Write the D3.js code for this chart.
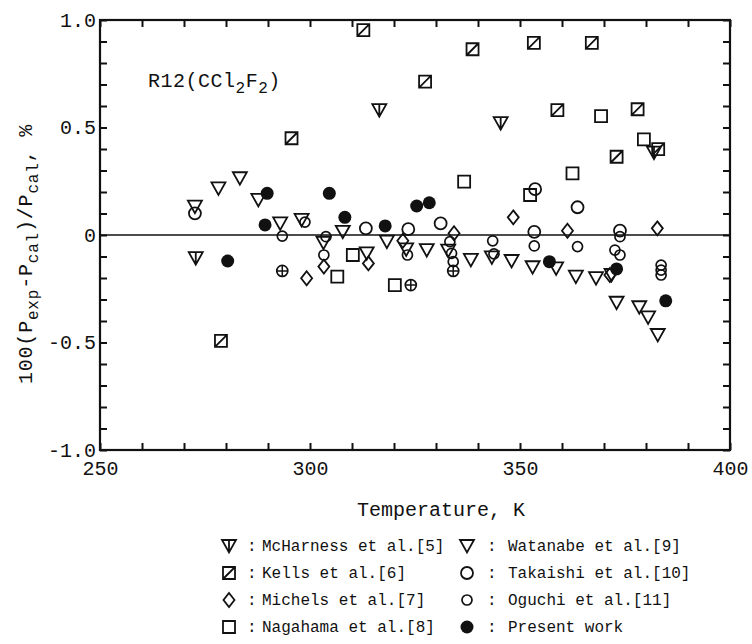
<!DOCTYPE html>
<html><head><meta charset="utf-8">
<script src="https://cdn.jsdelivr.net/npm/d3@7"></script>
<style>
body{margin:0;background:#fff}
svg{display:block}
text{font-family:"Liberation Mono","DejaVu Sans Mono",monospace;fill:#111}
</style>
</head><body>
<svg id="c" width="752" height="644"></svg>
<script>
// ---- data (temperature K, deviation %) ----
const mcHarness = [[272.8,-0.108],[316.5,0.581],[345.4,0.520],[381.9,0.383]];
const kells = [[278.8,-0.492],[295.6,0.450],[312.7,0.953],[327.4,0.713],[338.7,0.864],[353.3,0.894],[367.1,0.894],[358.9,0.581],[378.0,0.585],[373.0,0.364],[382.9,0.399]];
const michels = [[299.2,-0.201],[303.3,-0.147],[313.9,-0.132],[322.1,-0.027],[334.3,0.008],[348.4,0.082],[361.3,0.020],[371.4,-0.186],[382.7,0.031]];
const nagahama = [[306.5,-0.194],[310.2,-0.093],[320.2,-0.233],[336.7,0.248],[352.4,0.186],[362.5,0.287],[369.3,0.553],[379.5,0.445]];
const watanabe = [[272.6,0.132],[278.2,0.217],[283.3,0.264],[287.7,0.163],[292.9,0.054],[298.0,0.070],[303.2,-0.036],[307.8,0.015],[313.5,-0.085],[318.3,-0.031],[322.9,-0.067],[327.8,-0.070],[332.9,-0.073],[338.3,-0.116],[343.3,-0.104],[348.0,-0.121],[353.0,-0.150],[358.6,-0.155],[363.3,-0.194],[368.1,-0.201],[371.8,-0.186],[373.0,-0.315],[378.4,-0.336],[380.5,-0.383],[382.8,-0.465]];
const takaishi = [[272.6,0.101],[313.3,0.031],[323.4,0.027],[331.1,0.054],[353.6,0.213],[363.7,0.129],[353.4,0.015],[373.8,0.020]];
const oguchi = [[293.4,-0.005],[298.8,0.060],[303.8,-0.008],[303.3,-0.093],[323.2,-0.093],[333.3,-0.031],[333.7,-0.085],[334.1,-0.124],[343.5,-0.027],[343.8,-0.088],[353.4,-0.051],[363.7,-0.054],[373.8,-0.008],[372.6,-0.070],[373.8,-0.093],[383.6,-0.140],[383.6,-0.163],[383.6,-0.186]];
const crossed = [[293.4,-0.167],[324.0,-0.233],[334.1,-0.167]];
const presentWork = [[280.4,-0.121],[289.3,0.047],[289.8,0.194],[304.6,0.194],[308.3,0.082],[317.9,0.042],[325.4,0.135],[328.4,0.150],[357.0,-0.124],[373.0,-0.158],[384.7,-0.306]];

const xTickLabels = [250,300,350,400];
const yTickLabels = ["-1.0","-0.5","0","0.5","1.0"];
const legendNames = ["McHarness et al.[5]","Kells et al.[6]","Michels et al.[7]","Nagahama et al.[8]",
                     "Watanabe et al.[9]","Takaishi et al.[10]","Oguchi et al.[11]","Present work"];

// ---- layout ----
const svg = d3.select("#c");
const x = d3.scaleLinear().domain([250,400]).range([100,730]);
const y = d3.scaleLinear().domain([-1,1]).range([450,20]);
const ink = "#111";

// symbols
const shapes = {
  mc: "M-7,-6L7,-6L0,6.5Z M0,-6L0,6.5",
  tri: "M-7,-6L7,-6L0,6.5Z",
  kells: "M-6,-6h12v12h-12Z M-6,6L6,-6",
  dia: "M0,-7L5.5,0L0,7L-5.5,0Z",
  sq: "M-6,-6h12v12h-12Z"
};
function drawSym(g, type, cx, cy){
  const t = `translate(${cx},${cy})`;
  if (type in shapes){
    g.append("path").attr("d", shapes[type]).attr("transform", t)
      .attr("fill","none").attr("stroke",ink).attr("stroke-width",1.8);
  } else if (type==="tk"){
    g.append("circle").attr("cx",cx).attr("cy",cy).attr("r",6).attr("fill","none").attr("stroke",ink).attr("stroke-width",1.8);
  } else if (type==="og"){
    g.append("circle").attr("cx",cx).attr("cy",cy).attr("r",5).attr("fill","none").attr("stroke",ink).attr("stroke-width",1.7);
  } else if (type==="cross"){
    g.append("circle").attr("cx",cx).attr("cy",cy).attr("r",5.5).attr("fill","none").attr("stroke",ink).attr("stroke-width",1.7);
    g.append("path").attr("d","M-5.5,0H5.5M0,-5.5V5.5").attr("transform",t).attr("stroke",ink).attr("stroke-width",1.5);
  } else if (type==="fill"){
    g.append("circle").attr("cx",cx).attr("cy",cy).attr("r",6.5).attr("fill",ink);
  }
}

// axes (ticks inward)
const xMinor = d3.range(250,401,10);
const yMinor = d3.range(-10,11).map(d=>d/10);
const fmtX = d => xTickLabels.includes(d) ? String(d) : "";
const fmtY = d => { const i = [-1,-0.5,0,0.5,1].findIndex(v=>Math.abs(v-d)<1e-9); return i>=0 ? yTickLabels[i] : ""; };

const axB = svg.append("g").attr("transform",`translate(0,${y(-1)})`)
  .call(d3.axisBottom(x).tickValues(xMinor).tickFormat(fmtX).tickSize(-7).tickPadding(11));
const axT = svg.append("g").attr("transform",`translate(0,${y(1)})`)
  .call(d3.axisTop(x).tickValues(xMinor).tickFormat("").tickSize(-7));
const axL = svg.append("g").attr("transform",`translate(${x(250)},0)`)
  .call(d3.axisLeft(y).tickValues(yMinor).tickFormat(fmtY).tickSize(-7).tickPadding(4));
const axR = svg.append("g").attr("transform",`translate(${x(400)},0)`)
  .call(d3.axisRight(y).tickValues(yMinor).tickFormat("").tickSize(-7));
[axB,axT,axL,axR].forEach(a=>{
  a.select(".domain").remove();
  a.selectAll(".tick line").attr("stroke",ink).attr("stroke-width",2);
  a.selectAll("text").attr("font-size",20).attr("fill",ink)
   .style("font-family",'"Liberation Mono","DejaVu Sans Mono",monospace');
});

// frame and zero line
svg.append("rect").attr("x",x(250)).attr("y",y(1)).attr("width",x(400)-x(250)).attr("height",y(-1)-y(1))
  .attr("fill","none").attr("stroke",ink).attr("stroke-width",2.2);
svg.append("line").attr("x1",x(250)).attr("x2",x(400)).attr("y1",y(0)).attr("y2",y(0))
  .attr("stroke",ink).attr("stroke-width",1.6);

// data marks
const gm = svg.append("g");
const seriesList = [
  [kells,"kells"],[nagahama,"sq"],[michels,"dia"],[watanabe,"tri"],[mcHarness,"mc"],
  [takaishi,"tk"],[oguchi,"og"],[crossed,"cross"],[presentWork,"fill"]
];
seriesList.forEach(([data,type])=>data.forEach(d=>drawSym(gm,type,x(d[0]),y(d[1]))));

// title
const tt = svg.append("text").attr("x",148).attr("y",87).attr("font-size",20).attr("letter-spacing",0.5);
tt.append("tspan").text("R12(CCl");
tt.append("tspan").attr("dy",6).attr("font-size",16).text("2");
tt.append("tspan").attr("dy",-6).text("F");
tt.append("tspan").attr("dy",6).attr("font-size",16).text("2");
tt.append("tspan").attr("dy",-6).text(")");

// y label
const yl = svg.append("text").attr("transform","translate(32,254) rotate(-90)")
  .attr("text-anchor","middle").attr("font-size",20).attr("letter-spacing",0.8);
yl.append("tspan").text("100(P");
yl.append("tspan").attr("dy",6).attr("font-size",16).text("exp");
yl.append("tspan").attr("dy",-6).text("-P");
yl.append("tspan").attr("dy",6).attr("font-size",16).text("cal");
yl.append("tspan").attr("dy",-6).text(")/P");
yl.append("tspan").attr("dy",6).attr("font-size",16).text("cal");
yl.append("tspan").attr("dy",-6).text(", %");

// x label
svg.append("text").attr("x",441).attr("y",516).attr("text-anchor","middle").attr("font-size",20)
  .text("Temperature, K");

// legend
const lg = svg.append("g");
const legTypes = ["mc","kells","dia","sq","tri","tk","og","fill"];
const rowY = [546,573,600,627];
legTypes.forEach((tp,i)=>{
  const col = Math.floor(i/4), row = i%4;
  const sx = col===0 ? 229 : 467;
  const colonDx = col===0 ? 18 : 20;
  const textDx = col===0 ? 33 : 41;
  const cy = rowY[row];
  drawSym(lg, tp, sx, cy);
  lg.append("text").attr("x", sx+colonDx).attr("y", cy+5).attr("font-size",16).text(":");
  lg.append("text").attr("x", sx+textDx).attr("y", cy+5).attr("font-size",16).text(legendNames[i]);
});
</script>
</body></html>
